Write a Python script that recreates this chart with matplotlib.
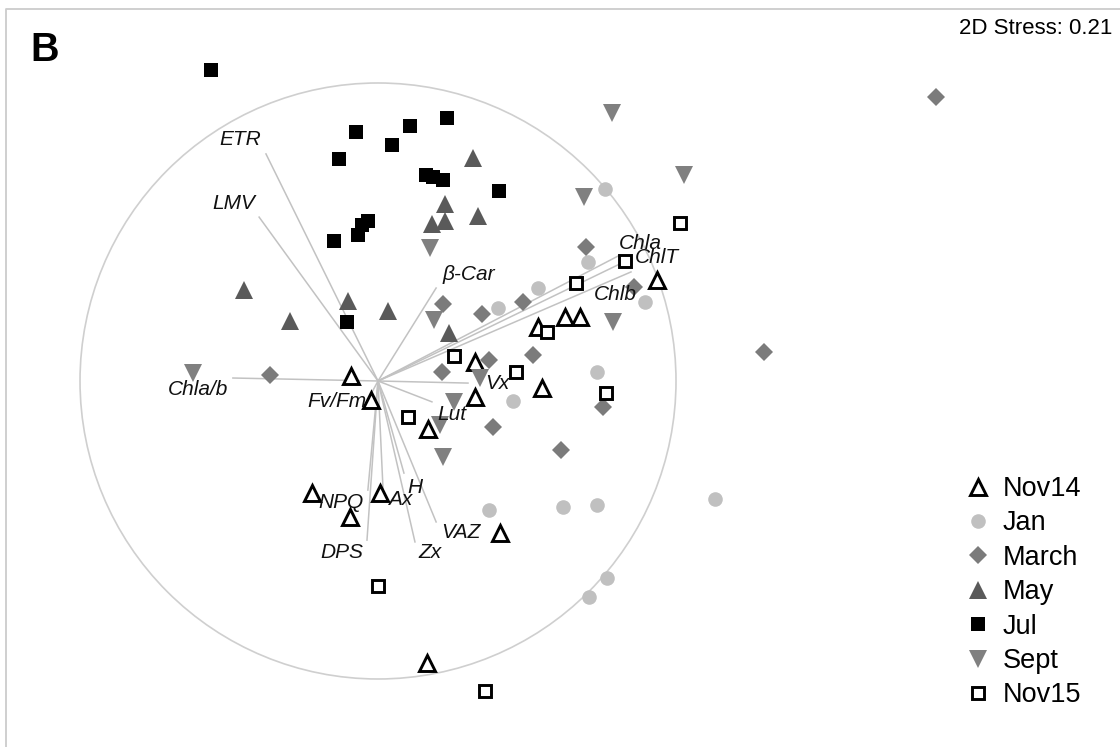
import matplotlib
matplotlib.use("Agg")
import matplotlib.pyplot as plt
from matplotlib.patches import Circle

plt.rcParams["font.family"] = ["Liberation Sans", "DejaVu Sans"]

# NMDS sample scores (axis 1, axis 2), by sampling month
nov14_x = [0.936, 0.628, 0.678, 0.537, 0.326, -0.091, -0.023, 0.326, 0.550, 0.168, -0.221, 0.007, -0.094, 0.409, 0.164]
nov14_y = [0.339, 0.215, 0.215, 0.181, 0.064, 0.017, -0.064, -0.054, -0.023, -0.161, -0.376, -0.376, -0.456, -0.510, -0.946]

jan_x = [0.762, 0.705, 0.537, 0.403, 0.896, 0.735, 0.453, 0.372, 0.621, 0.735, 1.131, 0.768, 0.708]
jan_y = [0.644, 0.399, 0.312, 0.245, 0.265, 0.030, -0.067, -0.433, -0.423, -0.416, -0.396, -0.661, -0.725]

march_x = [1.872, 0.698, 0.859, 0.487, 0.349, 0.218, 0.372, 0.520, 0.215, 0.755, 0.386, 0.614, 1.295, -0.362]
march_y = [0.953, 0.450, 0.315, 0.265, 0.225, 0.258, 0.070, 0.087, 0.030, -0.087, -0.154, -0.232, 0.097, 0.020]

may_x = [0.319, 0.225, 0.181, 0.225, 0.336, -0.450, -0.295, -0.101, 0.034, 0.238]
may_y = [0.748, 0.594, 0.527, 0.537, 0.554, 0.305, 0.201, 0.268, 0.235, 0.161]

jul_x = [-0.560, -0.074, 0.107, 0.232, -0.131, 0.047, 0.161, 0.185, 0.218, 0.406, -0.034, -0.054, -0.067, -0.148, -0.104]
jul_y = [1.044, 0.836, 0.856, 0.883, 0.745, 0.792, 0.691, 0.685, 0.674, 0.638, 0.537, 0.523, 0.490, 0.470, 0.198]

sept_x = [0.785, 1.027, 0.691, 0.174, 0.188, 0.789, 0.342, 0.255, 0.208, 0.218, -0.621]
sept_y = [0.899, 0.691, 0.617, 0.446, 0.205, 0.198, 0.010, -0.070, -0.148, -0.255, 0.027]

nov15_x = [1.013, 0.829, 0.664, 0.567, 0.255, 0.463, 0.765, 0.101, 0.000, 0.359]
nov15_y = [0.530, 0.403, 0.329, 0.164, 0.084, 0.030, -0.040, -0.121, -0.688, -1.040]

# Correlation vectors of the photosynthetic / pigment variables
var_names = ["ETR", "LMV", "β-Car", "Chla", "ChlT", "Chlb", "Chla/b", "Vx", "Lut",
             "Fv/Fm", "DPS", "NPQ", "Ax", "H", "Zx", "VAZ"]
var_x = [-0.376, -0.399, 0.195, 0.805, 0.839, 0.849, -0.487, 0.302, 0.181,
         -0.020, -0.037, -0.034, 0.017, 0.087, 0.124, 0.195]
var_y = [0.762, 0.550, 0.312, 0.419, 0.406, 0.366, 0.010, -0.007, -0.070,
         -0.037, -0.534, -0.366, -0.366, -0.309, -0.540, -0.473]

stress_text = "2D Stress: 0.21"
panel_letter = "B"

# where each vector label sits (centre of the text)
label_pos = {
    "ETR": (-0.463, 0.809), "LMV": (-0.483, 0.597), "β-Car": (0.305, 0.356),
    "Chla": (0.879, 0.463), "ChlT": (0.936, 0.413), "Chlb": (0.795, 0.289),
    "Chla/b": (-0.604, -0.030), "Vx": (0.399, -0.010), "Lut": (0.248, -0.114),
    "Fv/Fm": (-0.138, -0.070), "DPS": (-0.121, -0.577), "NPQ": (-0.124, -0.409),
    "Ax": (0.074, -0.399), "H": (0.124, -0.356), "Zx": (0.174, -0.577),
    "VAZ": (0.279, -0.510),
}

fig = plt.figure(figsize=(11.2, 7.47), dpi=100)
ax = fig.add_axes([0, 0, 1, 1])
ax.set_xlim(-1.2685, 2.4899)
ax.set_ylim(-1.2282, 1.2785)
ax.axis("off")

# outer frame
ax.plot([0.0054, 0.0054, 1.0], [0.0, 0.988, 0.988], transform=ax.transAxes,
        color="#cccccc", lw=1.3, clip_on=False)

# unit correlation circle and vectors
ax.add_patch(Circle((0, 0), 1.0, fill=False, ec="#cfcfcf", lw=1.2, zorder=1))
for vx, vy in zip(var_x, var_y):
    ax.plot([0, vx], [0, vy], color="#c2c2c2", lw=1.1, zorder=1)

groups = [
    ("Nov14", nov14_x, nov14_y, dict(marker="^", ms=11, mfc="white", mec="black", mew=2.1)),
    ("Jan", jan_x, jan_y, dict(marker="o", ms=10.5, mfc="#c0c0c0", mec="#c0c0c0", mew=0)),
    ("March", march_x, march_y, dict(marker="D", ms=9.3, mfc="#7b7b7b", mec="#7b7b7b", mew=0)),
    ("May", may_x, may_y, dict(marker="^", ms=12.5, mfc="#5a5a5a", mec="#5a5a5a", mew=0)),
    ("Jul", jul_x, jul_y, dict(marker="s", ms=10.5, mfc="black", mec="black", mew=0)),
    ("Sept", sept_x, sept_y, dict(marker="v", ms=12.5, mfc="#808080", mec="#808080", mew=0)),
    ("Nov15", nov15_x, nov15_y, dict(marker="s", ms=8.8, mfc="white", mec="black", mew=2.1)),
]
handles = []
for name, xs, ys, style in groups:
    h, = ax.plot(xs, ys, ls="none", label=name, zorder=3, **style)
    handles.append(h)

for name in var_names:
    lx, ly = label_pos[name]
    ax.text(lx, ly, name, fontsize=15, style="italic", ha="center", va="center",
            color="#111111", zorder=4)

ax.text(30 / 1120, 1 - 50 / 747, panel_letter, transform=ax.transAxes,
        fontsize=28.5, fontweight="bold", ha="left", va="center")
ax.text(1112 / 1120, 1 - 29 / 747, stress_text, transform=ax.transAxes,
        fontsize=16, ha="right", va="center")

ax.legend(handles=handles, loc="upper left", bbox_to_anchor=(964 / 1120, 1 - 476 / 747),
          frameon=False, fontsize=19.5, handlelength=1.0, handletextpad=0.42,
          borderpad=0, borderaxespad=0, labelspacing=0.31, numpoints=1)

fig.savefig("out.png", dpi=100)
